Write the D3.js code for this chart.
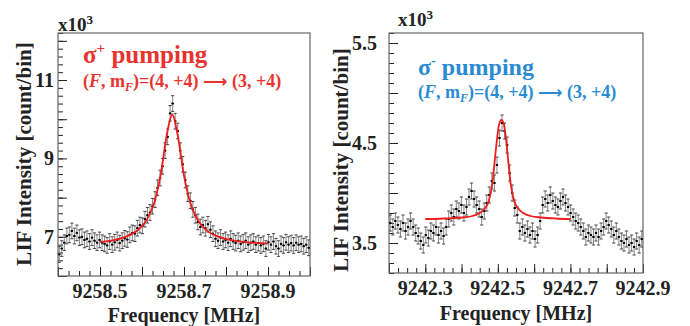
<!DOCTYPE html>
<html>
<head>
<meta charset="utf-8">
<script src="https://cdn.jsdelivr.net/npm/d3@7"></script>
<style>
  body { margin: 0; background: #fff; }
  svg { display: block; }
  text { font-family: "Liberation Serif", "Times New Roman", serif; font-weight: bold; }
</style>
</head>
<body>
<div id="chart"></div>
<script>
// ---- left panel: sigma+ pumping (values in units of 10^3 counts/bin)
const leftBinStart = 9258.403;
const leftBinWidth = 0.006;
const leftValues = [
  6.55, 6.70, 6.85, 7.02, 7.05, 7.15, 7.02, 7.10, 6.98, 7.00,
  6.92, 6.95, 6.88, 6.98, 6.90, 6.85, 6.92, 6.85, 6.82, 6.78,
  6.88, 6.80, 6.86, 6.92, 6.84, 6.90, 6.96, 6.93, 7.05, 7.10,
  7.08, 7.22, 7.30, 7.28, 7.45, 7.55, 7.62, 7.78, 7.95, 8.25,
  8.50, 8.80, 9.20, 9.55, 10.15, 10.40, 9.95, 9.70, 9.20, 8.85,
  8.45, 8.10, 7.92, 7.70, 7.55, 7.38, 7.25, 7.30, 7.22, 7.32,
  7.18, 7.08, 6.95, 6.90, 6.98, 6.88, 6.92, 6.85, 6.95, 6.88,
  6.84, 6.90, 6.82, 6.86, 6.90, 6.80, 6.85, 6.88, 6.80, 6.84,
  6.78, 6.82, 6.70, 6.86, 6.80, 6.88, 6.76, 6.70, 6.82, 6.78,
  6.86, 6.80, 6.84, 6.78, 6.85, 6.80, 6.82, 6.76, 6.80, 6.72
];
const leftError = 0.2;
const leftFitFreq = [9258.50, 9258.53, 9258.56, 9258.59, 9258.61, 9258.63, 9258.645, 9258.66, 9258.672,
                     9258.685, 9258.70, 9258.715, 9258.73, 9258.75, 9258.78, 9258.81, 9258.85, 9258.90];
const leftFitValue = [6.87, 6.91, 7.00, 7.17, 7.41, 7.90, 8.62, 9.66, 10.12,
                      9.59, 8.56, 7.87, 7.48, 7.20, 7.01, 6.92, 6.86, 6.83];
const leftXTickLabels = [9258.5, 9258.7, 9258.9];
const leftYTickLabels = [7, 9, 11];

// ---- right panel: sigma- pumping
const rightBinStart = 9242.2035;
const rightBinWidth = 0.007;
const rightValues = [
  3.70, 3.66, 3.72, 3.68, 3.64, 3.70, 3.62, 3.66, 3.72, 3.66,
  3.60, 3.57, 3.52, 3.48, 3.58, 3.55, 3.62, 3.60, 3.66, 3.58,
  3.62, 3.57, 3.66, 3.74, 3.80, 3.76, 3.84, 3.82, 3.88, 3.80,
  3.86, 3.96, 4.02, 3.94, 3.88, 3.84, 3.76, 3.82, 3.90, 3.98,
  4.12, 4.10, 4.28, 4.55, 4.70, 4.62, 4.48, 4.20, 4.00, 3.85,
  3.78, 3.62, 3.66, 3.60, 3.64, 3.58, 3.62, 3.54, 3.58, 3.72,
  3.88, 3.94, 3.90, 3.98, 3.92, 3.88, 3.86, 3.92, 3.96, 3.90,
  3.86, 3.80, 3.76, 3.72, 3.70, 3.66, 3.62, 3.56, 3.60, 3.58,
  3.56, 3.60, 3.56, 3.62, 3.66, 3.72, 3.68, 3.64, 3.58, 3.62,
  3.56, 3.52, 3.50, 3.54, 3.48, 3.50, 3.46, 3.52, 3.48, 3.54
];
const rightError = 0.08;
const rightFitFreq = [9242.30, 9242.35, 9242.40, 9242.43, 9242.45, 9242.465, 9242.475, 9242.485, 9242.495, 9242.503, 9242.510,
                      9242.517, 9242.525, 9242.535, 9242.545, 9242.555, 9242.57, 9242.59, 9242.62, 9242.66, 9242.70];
const rightFitValue = [3.74, 3.745, 3.755, 3.77, 3.80, 3.85, 3.92, 4.10, 4.45, 4.68, 4.73,
                       4.68, 4.45, 4.10, 3.92, 3.85, 3.80, 3.77, 3.755, 3.745, 3.74];
const rightXTickLabels = [9242.3, 9242.5, 9242.7, 9242.9];
const rightYTickLabels = [3.5, 4.5, 5.5];

const width = 690, height = 326;
const svg = d3.select('#chart').append('svg')
  .attr('width', width)
  .attr('height', height);

const drawPanel = (p) => {
  const g = svg.append('g');
  const x = d3.scaleLinear().domain(p.xDomain).range([p.left, p.right]);
  const y = d3.scaleLinear().domain(p.yDomain).range([p.bottom, p.top]);

  // minor and major ticks, pointing inwards
  const tickAxis = (axis, values, size, tr) => {
    const a = g.append('g').attr('transform', tr)
      .call(axis.tickValues(values).tickSize(-size).tickFormat(''));
    a.select('.domain').remove();
    a.selectAll('line').attr('stroke', '#222').attr('stroke-width', 1);
  };
  tickAxis(d3.axisBottom(x), p.xMinor, 5, `translate(0,${p.bottom})`);
  tickAxis(d3.axisBottom(x), p.xMajor, 9, `translate(0,${p.bottom})`);
  tickAxis(d3.axisLeft(y), p.yMinor, 5, `translate(${p.left},0)`);
  tickAxis(d3.axisLeft(y), p.yMajor, 9, `translate(${p.left},0)`);

  g.append('rect')
    .attr('x', p.left).attr('y', p.top)
    .attr('width', p.right - p.left).attr('height', p.bottom - p.top)
    .attr('fill', 'none').attr('stroke', '#666').attr('stroke-width', 1.2);

  // tick labels
  g.append('g').selectAll('text')
    .data(p.xLabels).enter().append('text')
    .attr('x', d => x(d)).attr('y', p.bottom + p.xLabelDy)
    .attr('text-anchor', 'middle').attr('font-size', 20).attr('fill', '#222')
    .text(d => d.toFixed(1));
  g.append('g').selectAll('text')
    .data(p.yLabels).enter().append('text')
    .attr('x', p.left - p.yLabelGap).attr('y', d => y(d) + 7)
    .attr('text-anchor', 'end').attr('font-size', 20).attr('fill', '#222')
    .text(d => p.yFormat(d));

  // axis titles
  g.append('text')
    .attr('x', (p.left + p.right) / 2).attr('y', p.xTitleY)
    .attr('text-anchor', 'middle').attr('font-size', 20).attr('fill', '#222')
    .text('Frequency [MHz]');
  g.append('text')
    .attr('transform', `translate(${p.yTitleX},${p.yTitleY}) rotate(-90)`)
    .attr('text-anchor', 'middle').attr('font-size', 21).attr('fill', '#222')
    .text('LIF Intensity [count/bin]');

  // x10^3
  const mult = g.append('text').attr('x', p.multX).attr('y', p.multY)
    .attr('font-size', 19).attr('fill', '#222');
  mult.append('tspan').text('x10');
  mult.append('tspan').attr('font-size', 13).attr('dy', -7).text('3');

  // data with error bars
  const data = p.values.map((v, i) => ({ f: p.binStart + i * p.binWidth, v }));
  const clip = `clip-${p.id}`;
  svg.append('clipPath').attr('id', clip).append('rect')
    .attr('x', p.left).attr('y', p.top)
    .attr('width', p.right - p.left).attr('height', p.bottom - p.top);
  const dg = g.append('g').attr('clip-path', `url(#${clip})`);
  const capW = 1.6;
  const pts = dg.selectAll('g.pt').data(data).enter().append('g').attr('class', 'pt');
  pts.append('line')
    .attr('x1', d => x(d.f)).attr('x2', d => x(d.f))
    .attr('y1', d => y(d.v - p.err)).attr('y2', d => y(d.v + p.err))
    .attr('stroke', '#777').attr('stroke-width', 0.9);
  pts.append('line')
    .attr('x1', d => x(d.f) - capW).attr('x2', d => x(d.f) + capW)
    .attr('y1', d => y(d.v + p.err)).attr('y2', d => y(d.v + p.err))
    .attr('stroke', '#333').attr('stroke-width', 0.9);
  pts.append('line')
    .attr('x1', d => x(d.f) - capW).attr('x2', d => x(d.f) + capW)
    .attr('y1', d => y(d.v - p.err)).attr('y2', d => y(d.v - p.err))
    .attr('stroke', '#333').attr('stroke-width', 0.9);
  pts.append('line')
    .attr('x1', d => x(d.f - p.binWidth / 2)).attr('x2', d => x(d.f + p.binWidth / 2))
    .attr('y1', d => y(d.v)).attr('y2', d => y(d.v))
    .attr('stroke', '#111').attr('stroke-width', 1);
  pts.append('rect')
    .attr('x', d => x(d.f) - 1).attr('y', d => y(d.v) - 1)
    .attr('width', 2).attr('height', 2).attr('fill', '#000');

  // fit curve
  const fit = p.fitFreq.map((f, i) => [f, p.fitValue[i]]);
  const line = d3.line()
    .curve(d3.curveMonotoneX)
    .x(d => x(d[0]))
    .y(d => y(d[1]));
  dg.append('path')
    .attr('d', line(fit))
    .attr('fill', 'none')
    .attr('stroke', '#ee1c1c')
    .attr('stroke-width', 1.8);

  // labels in the plot
  const t1 = g.append('text').attr('x', p.titleX).attr('y', p.titleY)
    .attr('font-size', p.titleSize).attr('fill', p.color);
  t1.append('tspan').text('σ');
  t1.append('tspan').attr('font-size', p.titleSize * 0.6).attr('dy', -p.titleSize * 0.4).text(p.sign);
  t1.append('tspan').attr('dy', p.titleSize * 0.4).text(' pumping');

  const t2 = g.append('text').attr('x', p.titleX).attr('y', p.subY)
    .attr('font-size', 18).attr('fill', p.color);
  t2.append('tspan').text('(');
  t2.append('tspan').attr('font-style', 'italic').text('F');
  t2.append('tspan').text(', m');
  t2.append('tspan').attr('font-style', 'italic').attr('font-size', 12).attr('dy', 4).text('F');
  t2.append('tspan').attr('dy', -4).text(')=(4, +4) ');
  t2.append('tspan').attr('font-family', 'DejaVu Sans').attr('font-size', 17).text('⟶');
  t2.append('tspan').text(' (3, +4)');
};

drawPanel({
  id: 'left',
  left: 58, right: 310, top: 33, bottom: 276,
  xDomain: [9258.4, 9259.0], yDomain: [6.0, 12.2],
  xMinor: d3.range(9258.4, 9259.001, 0.025), xMajor: d3.range(9258.4, 9259.001, 0.1),
  yMinor: d3.range(6.0, 12.21, 0.2), yMajor: d3.range(6, 12.1, 1),
  xLabels: leftXTickLabels, yLabels: leftYTickLabels, yFormat: d3.format('d'),
  xLabelDy: 22, yLabelGap: 4,
  xTitleY: 322, yTitleX: 31, yTitleY: 154,
  multX: 58, multY: 31,
  binStart: leftBinStart, binWidth: leftBinWidth, values: leftValues, err: leftError,
  fitFreq: leftFitFreq, fitValue: leftFitValue,
  color: '#e8332e', sign: '+', titleX: 83, titleY: 63, titleSize: 25, subY: 87
});

drawPanel({
  id: 'right',
  left: 389, right: 643, top: 33, bottom: 273,
  xDomain: [9242.2, 9242.9], yDomain: [3.2, 5.6],
  xMinor: d3.range(9242.2, 9242.901, 0.025), xMajor: d3.range(9242.2, 9242.901, 0.1),
  yMinor: d3.range(3.2, 5.61, 0.1), yMajor: d3.range(3.5, 5.51, 0.5),
  xLabels: rightXTickLabels, yLabels: rightYTickLabels, yFormat: d3.format('.1f'),
  xLabelDy: 22, yLabelGap: 12,
  xTitleY: 320, yTitleX: 348, yTitleY: 160,
  multX: 398, multY: 26,
  binStart: rightBinStart, binWidth: rightBinWidth, values: rightValues, err: rightError,
  fitFreq: rightFitFreq, fitValue: rightFitValue,
  color: '#2a8bd2', sign: '-', titleX: 418, titleY: 75, titleSize: 24, subY: 98
});
</script>
</body>
</html>
